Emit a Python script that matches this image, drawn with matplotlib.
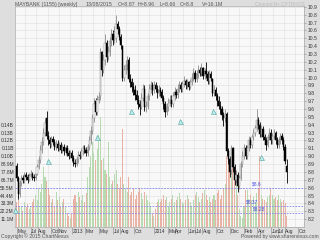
"""MAYBANK (1155) weekly candlestick chart with volume, ChartNexus style."""

import numpy as np
import pandas as pd
import matplotlib
matplotlib.use("Agg")
import matplotlib.pyplot as plt
import matplotlib.dates as mdates

plt.rcParams["font.family"] = ["Liberation Sans", "DejaVu Sans"]

FIRST_WEEK = "2012-04-30"

# weekly OHLC (10 weeks per row)
OPENS = [
    8.88, 8.72, 8.52, 8.66, 8.72, 8.70, 8.76, 8.74, 8.70, 8.75,
    8.78, 8.74, 8.72, 8.78, 8.86, 8.95, 9.08, 9.18, 9.30, 9.48,
    9.26, 9.20, 9.15, 9.22, 9.18, 9.12, 9.16, 9.10, 9.14, 9.08,
    9.12, 9.06, 9.10, 9.04, 9.00, 9.04, 8.98, 8.92, 8.90, 8.96,
    9.02, 9.00, 9.06, 9.10, 9.08, 9.04, 9.12, 9.20, 9.32, 9.48,
    9.70, 9.56, 9.72, 9.76, 10.32, 10.10, 10.22, 10.44, 10.26, 10.32,
    10.46, 10.55, 10.48, 10.50, 10.68, 10.62, 10.52, 10.40, 10.00, 10.10,
    10.16, 10.22, 9.98, 9.94, 9.88, 9.84, 9.78, 9.72, 9.66, 9.62,
    9.74, 9.86, 9.62, 9.64, 9.76, 9.86, 9.90, 9.84, 9.90, 9.86,
    9.80, 9.84, 9.82, 9.74, 9.66, 9.56, 9.62, 9.68, 9.72, 9.66,
    9.76, 9.82, 9.78, 9.86, 9.90, 9.86, 9.92, 9.96, 9.90, 9.94,
    9.88, 9.94, 10.00, 10.06, 9.98, 10.04, 10.10, 10.06, 10.12, 10.02,
    10.08, 10.04, 9.96, 10.04, 9.98, 9.80, 9.84, 9.76, 9.70, 9.64,
    9.60, 9.52, 9.48, 9.54, 9.06, 8.96, 8.82, 9.10, 8.86, 8.70,
    8.76, 8.62, 8.72, 8.90, 9.00, 9.10, 9.00, 9.10, 9.20, 9.14,
    9.24, 9.30, 9.36, 9.46, 9.40, 9.28, 9.34, 9.24, 9.20, 9.14,
    9.24, 9.30, 9.20, 9.26, 9.30, 9.20, 9.14, 9.20, 9.26, 9.20,
    9.12, 8.87,
]
HIGHS = [
    8.92, 8.75, 8.70, 8.76, 8.76, 8.80, 8.80, 8.78, 8.79, 8.82,
    8.80, 8.78, 8.82, 8.90, 9.00, 9.14, 9.24, 9.36, 9.48, 9.58,
    9.32, 9.24, 9.26, 9.26, 9.22, 9.20, 9.20, 9.18, 9.18, 9.16,
    9.16, 9.14, 9.14, 9.08, 9.08, 9.08, 9.02, 8.96, 9.00, 9.06,
    9.06, 9.10, 9.14, 9.14, 9.12, 9.16, 9.26, 9.38, 9.54, 9.74,
    9.74, 9.78, 9.82, 10.38, 10.34, 10.30, 10.56, 10.48, 10.40, 10.52,
    10.62, 10.60, 10.66, 10.79, 10.72, 10.66, 10.56, 10.42, 10.16, 10.22,
    10.28, 10.26, 10.04, 10.00, 9.94, 9.90, 9.84, 9.78, 9.72, 9.80,
    9.92, 9.90, 9.70, 9.80, 9.92, 9.96, 9.94, 9.96, 9.94, 9.90,
    9.90, 9.88, 9.86, 9.78, 9.70, 9.68, 9.74, 9.78, 9.78, 9.82,
    9.88, 9.86, 9.92, 9.96, 9.94, 9.96, 10.02, 9.98, 9.98, 9.96,
    9.98, 10.06, 10.12, 10.10, 10.10, 10.16, 10.14, 10.18, 10.14, 10.12,
    10.20, 10.08, 10.10, 10.08, 10.00, 9.90, 9.88, 9.80, 9.76, 9.70,
    9.64, 9.56, 9.60, 9.56, 9.10, 9.00, 9.14, 9.12, 8.90, 8.82,
    8.80, 8.76, 8.94, 9.06, 9.16, 9.14, 9.14, 9.26, 9.24, 9.28,
    9.34, 9.40, 9.60, 9.50, 9.44, 9.40, 9.38, 9.28, 9.24, 9.28,
    9.36, 9.34, 9.30, 9.34, 9.32, 9.24, 9.24, 9.30, 9.30, 9.24,
    9.16, 8.96,
]
LOWS = [
    8.68, 8.45, 8.48, 8.62, 8.66, 8.66, 8.70, 8.66, 8.68, 8.72,
    8.70, 8.68, 8.70, 8.76, 8.84, 8.92, 9.04, 9.14, 9.26, 9.22,
    9.14, 9.10, 9.12, 9.14, 9.08, 9.08, 9.06, 9.06, 9.04, 9.04,
    9.02, 9.02, 9.00, 8.96, 8.98, 8.94, 8.88, 8.86, 8.88, 8.92,
    8.96, 8.98, 9.02, 9.04, 9.00, 9.00, 9.08, 9.16, 9.28, 9.44,
    9.52, 9.52, 9.68, 9.72, 10.02, 10.06, 10.16, 10.20, 10.22, 10.28,
    10.40, 10.42, 10.44, 10.45, 10.56, 10.48, 10.36, 9.96, 9.96, 10.04,
    10.10, 9.94, 9.88, 9.82, 9.78, 9.72, 9.66, 9.60, 9.53, 9.60,
    9.70, 9.58, 9.56, 9.60, 9.72, 9.80, 9.78, 9.80, 9.82, 9.74,
    9.76, 9.76, 9.70, 9.60, 9.50, 9.52, 9.58, 9.64, 9.62, 9.62,
    9.72, 9.74, 9.74, 9.82, 9.82, 9.82, 9.88, 9.86, 9.86, 9.84,
    9.86, 9.90, 9.96, 9.94, 9.94, 10.00, 10.02, 10.02, 9.98, 9.98,
    10.00, 9.92, 9.92, 9.96, 9.76, 9.76, 9.72, 9.64, 9.60, 9.54,
    9.46, 9.38, 9.44, 9.00, 8.90, 8.74, 8.78, 8.80, 8.64, 8.66,
    8.55, 8.58, 8.70, 8.86, 8.96, 8.96, 8.96, 9.06, 9.10, 9.10,
    9.20, 9.26, 9.32, 9.34, 9.24, 9.24, 9.20, 9.16, 9.08, 9.12,
    9.20, 9.16, 9.16, 9.22, 9.16, 9.10, 9.10, 9.16, 9.16, 9.08,
    8.90, 8.66,
]
CLOSES = [
    8.72, 8.52, 8.66, 8.72, 8.70, 8.76, 8.74, 8.70, 8.75, 8.78,
    8.74, 8.72, 8.78, 8.86, 8.95, 9.08, 9.18, 9.30, 9.42, 9.26,
    9.20, 9.15, 9.22, 9.18, 9.12, 9.16, 9.10, 9.14, 9.08, 9.12,
    9.06, 9.10, 9.04, 9.00, 9.04, 8.98, 8.92, 8.90, 8.96, 9.02,
    9.00, 9.06, 9.10, 9.08, 9.04, 9.12, 9.20, 9.32, 9.48, 9.66,
    9.56, 9.72, 9.75, 10.32, 10.10, 10.22, 10.44, 10.26, 10.32, 10.46,
    10.55, 10.48, 10.58, 10.68, 10.62, 10.52, 10.42, 10.00, 10.10, 10.16,
    10.22, 9.98, 9.94, 9.88, 9.84, 9.78, 9.72, 9.66, 9.62, 9.74,
    9.86, 9.62, 9.64, 9.76, 9.86, 9.90, 9.84, 9.90, 9.86, 9.80,
    9.84, 9.82, 9.74, 9.66, 9.56, 9.62, 9.68, 9.72, 9.66, 9.76,
    9.82, 9.78, 9.86, 9.90, 9.86, 9.92, 9.96, 9.90, 9.94, 9.88,
    9.94, 10.00, 10.06, 9.98, 10.04, 10.10, 10.06, 10.12, 10.02, 10.08,
    10.04, 9.96, 10.04, 10.00, 9.80, 9.84, 9.76, 9.70, 9.64, 9.60,
    9.52, 9.48, 9.54, 9.06, 8.96, 8.80, 9.10, 8.86, 8.70, 8.76,
    8.62, 8.72, 8.90, 9.00, 9.10, 9.00, 9.10, 9.20, 9.14, 9.24,
    9.30, 9.36, 9.46, 9.40, 9.28, 9.34, 9.24, 9.20, 9.14, 9.24,
    9.30, 9.20, 9.26, 9.30, 9.20, 9.14, 9.20, 9.26, 9.20, 9.12,
    8.94, 8.80,
]
# weekly volume in millions of shares
VOLUMES_M = [
    35, 40, 28, 30, 22, 35, 28, 33, 25, 30,
    35, 40, 45, 38, 55, 50, 60, 84, 70, 65,
    55, 45, 35, 40, 30, 50, 38, 42, 30, 35,
    40, 28, 20, 15, 12, 18, 40, 45, 35, 50,
    42, 38, 45, 35, 48, 70, 85, 100, 120, 105,
    95, 110, 130, 155, 95, 98, 80, 75, 120, 70,
    60, 65, 75, 80, 60, 55, 70, 139, 60, 55,
    50, 70, 45, 50, 55, 40, 45, 50, 55, 48,
    40, 50, 45, 38, 35, 30, 20, 15, 25, 35,
    40, 35, 40, 45, 38, 42, 30, 35, 40, 45,
    35, 38, 42, 48, 40, 35, 32, 38, 45, 40,
    35, 30, 38, 45, 50, 42, 35, 40, 48, 52,
    45, 38, 42, 35, 40, 45, 38, 48, 52, 40,
    45, 55, 60, 100, 108, 90, 95, 85, 70, 60,
    45, 25, 15, 12, 30, 52, 52, 40, 45, 38,
    42, 35, 48, 55, 100, 45, 40, 38, 35, 42,
    45, 55, 45, 40, 42, 38, 45, 40, 35, 38,
    34, 16,
]

# dividend markers (triangles)
DIV_DATES = ["2012-04-25", "2012-09-17", "2013-04-22", "2013-09-19",
             "2014-04-24", "2014-09-18", "2015-04-18"]
DIV_PRICES = [8.32, 8.945, 9.25, 9.58, 9.45, 9.57, 8.99]

# support lines
SUPPORT_LEVELS = [8.60, 8.37, 8.28]
SUPPORT_LABELS = ["$8.6", "$8.37", "$8.28"]

TICK_DATES = ["2012-05-01", "2012-07-01", "2012-08-01", "2012-10-01", "2012-11-01",
              "2013-01-01", "2013-03-01", "2013-05-01", "2013-07-01", "2013-08-01",
              "2013-10-01", "2014-01-01", "2014-03-01", "2014-04-01", "2014-06-01",
              "2014-07-01", "2014-08-01", "2014-10-01", "2014-12-01", "2015-02-01",
              "2015-04-01", "2015-06-01", "2015-07-01", "2015-08-01", "2015-10-01"]
TICK_LABELS = ["May", "Jul", "Aug", "Oct", "Nov", "2013", "Mar", "May", "Jul", "Aug",
               "Oct", "2014", "Mar", "Apr", "Jun", "Jul", "Aug", "Oct", "Dec", "Feb",
               "Apr", "Jun", "Jul", "Aug", "Oct"]

VOL_STEP = 11.1  # millions per grid row
VOL_TICK_LABELS = ["11.1M", "22.2M", "33.3M", "44.4M", "55.5M", "66.7M", "77.8M",
                   "88.9M", "0.10B", "0.11B", "0.12B", "0.13B", "0.14B"]

opens = np.array(OPENS)
highs = np.array(HIGHS)
lows = np.array(LOWS)
closes = np.array(CLOSES)
vols = np.array(VOLUMES_M, dtype=float)
assert len(opens) == len(highs) == len(lows) == len(closes) == len(vols) == 172

x = mdates.date2num(pd.date_range(FIRST_WEEK, periods=len(closes), freq="7D"))
up = closes >= opens

FS = 3.8
fig = plt.figure(figsize=(3.2, 2.4), dpi=100, facecolor="#dedede")
ax_v = fig.add_axes([15 / 320, 13 / 240, 289 / 320, 221 / 240])
ax_v.set_facecolor("#f8f8f8")
ax_v.set_xlim(mdates.datestr2num("2012-04-23"), mdates.datestr2num("2015-10-26"))

y_bottom, y_top = 8.10, 10.91
n_rows = (y_top - y_bottom) / 0.1
ax_v.set_ylim(0, n_rows * VOL_STEP)

# grid (behind everything)
grid_c = "#e3e3e3"
for k in range(1, int(n_rows) + 1):
    ax_v.axhline(k * VOL_STEP, color=grid_c, lw=0.5, zorder=0)
vfr = [(25 + 11.25 * k - 15) / 289 for k in range(25)]
ax_v.vlines(vfr, 0, 1, transform=ax_v.transAxes, color=grid_c, lw=0.5, zorder=0)

vol_colors = np.where(up, "#b8dab0", "#e8b2a4")
ax_v.bar(x, vols, width=4.6, color=vol_colors, linewidth=0, zorder=1)

ax_v.set_yticks([VOL_STEP * (k + 1) for k in range(len(VOL_TICK_LABELS))])
ax_v.set_yticklabels(VOL_TICK_LABELS)
ax_v.tick_params(axis="y", length=0, pad=0.8, labelsize=3.5, colors="#333333")

tick_nums = mdates.datestr2num(TICK_DATES)
ax_v.set_xticks(tick_nums)
ax_v.tick_params(axis="x", length=5, width=0.5, color="#999999", labelbottom=False)
for tn, lab in zip(tick_nums, TICK_LABELS):
    ax_v.annotate(lab, xy=(tn, 0), xycoords=("data", "axes fraction"),
                  xytext=(0.5, -1.3), textcoords="offset points",
                  ha="left", va="top", fontsize=3.4, color="#333333",
                  annotation_clip=False)

for s in ax_v.spines.values():
    s.set_color("#aaaaaa")
    s.set_linewidth(0.5)

# price axis
ax_p = ax_v.twinx()
ax_p.set_ylim(y_bottom, y_top)
ax_p.set_yticks(np.round(np.arange(8.2, 10.95, 0.1), 1))
ax_p.set_yticklabels([f"{v:.1f}" for v in np.arange(8.2, 10.95, 0.1)])
ax_p.tick_params(axis="y", length=1.5, width=0.4, color="#888888", pad=1.0,
                 labelsize=3.6, labelcolor="#333333")
for s in ax_p.spines.values():
    s.set_visible(False)

for lvl in SUPPORT_LEVELS:
    ax_p.axhline(lvl, color="#8585f2", lw=0.6, ls=(0, (2, 1.5)), zorder=2)
label_dates = ["2015-03-08", "2015-02-10", "2015-03-13"]
for d, lvl, lab in zip(label_dates, SUPPORT_LEVELS, SUPPORT_LABELS):
    ax_p.text(mdates.datestr2num(d), lvl + 0.02, lab, fontsize=3.5,
              color="#4a4ae6", ha="left", va="bottom", zorder=3)

# candles
ax_p.vlines(x[up], lows[up], highs[up], color="#8c8c8c", lw=0.6, zorder=3)
ax_p.vlines(x[~up], lows[~up], highs[~up], color="black", lw=0.6, zorder=3)
ax_p.bar(x[up], closes[up] - opens[up], bottom=opens[up], width=5.5,
         color="white", edgecolor="#8c8c8c", linewidth=0.35, zorder=4)
ax_p.bar(x[~up], opens[~up] - closes[~up], bottom=closes[~up], width=5.5,
         color="black", edgecolor="black", linewidth=0.35, zorder=4)

ax_p.plot(mdates.datestr2num(DIV_DATES), DIV_PRICES, ls="none", marker="^",
          markersize=3.6, markerfacecolor="#bdeeee", markeredgecolor="#4f9f9f",
          markeredgewidth=0.4, zorder=5, clip_on=False)

# header and footer texts
hy = 1 - 4.5 / 240
tc = "#555555"
fig.text(15 / 320, hy, "MAYBANK (1155) [weekly]", fontsize=FS, color=tc, va="center")
fig.text(86 / 320, hy, "13/08/2015", fontsize=FS, color=tc, va="center")
fig.text(118 / 320, hy, "O=8.87", fontsize=FS, color=tc, va="center")
fig.text(138 / 320, hy, "H=8.96", fontsize=FS, color=tc, va="center")
fig.text(160 / 320, hy, "L=8.66", fontsize=FS, color=tc, va="center")
fig.text(180 / 320, hy, "C=8.8", fontsize=FS, color=tc, va="center")
fig.text(202 / 320, hy, "V=16.1M", fontsize=FS, color=tc, va="center")
fig.text(255 / 320, hy, "Charted By CPTRHOS", fontsize=FS - 0.3, color="#bbbbbb", va="center")
fig.text(1 / 320, 3.5 / 240, "Copyright \u00a9 2015 ChartNexus", fontsize=FS - 0.2,
         color="#555555", va="center")
fig.text(319 / 320, 3.5 / 240, "Powered by www.sharenexus.com", fontsize=FS - 0.2,
         color="#555555", va="center", ha="right")

fig.savefig("out.png", dpi=100, facecolor=fig.get_facecolor())
